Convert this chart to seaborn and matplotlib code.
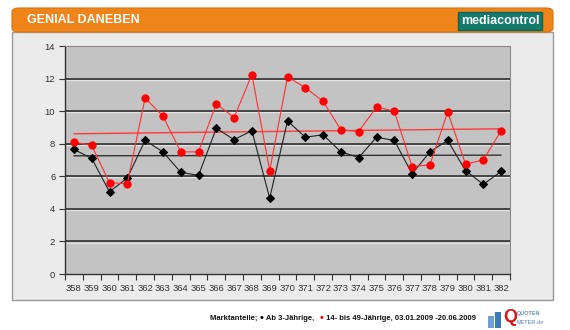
import numpy as np
import pandas as pd
import matplotlib
matplotlib.use("Agg")
import matplotlib.pyplot as plt
import matplotlib.transforms as mtransforms
from matplotlib.patches import FancyBboxPatch, Rectangle
import seaborn as sns

episodes = [str(e) for e in range(358, 383)]
ab3 = [7.65, 7.1, 5.05, 5.9, 8.2, 7.5, 6.25, 6.05, 8.95, 8.25, 8.8, 4.65, 9.4,
       8.4, 8.55, 7.5, 7.15, 8.4, 8.2, 6.15, 7.5, 8.2, 6.35, 5.5, 6.3]
a1449 = [8.1, 7.9, 5.6, 5.55, 10.8, 9.7, 7.5, 7.5, 10.45, 9.6, 12.25, 6.35, 12.1,
         11.45, 10.6, 8.85, 8.75, 10.25, 10.0, 6.6, 6.7, 9.95, 6.75, 7.0, 8.8]
yticks = [0, 2, 4, 6, 8, 10, 12, 14]
title = "GENIAL DANEBEN"
footer_parts = ["Marktanteile; ", "\u2022", " Ab 3-J\u00e4hrige,   ", "\u2022",
                " 14- bis 49-J\u00e4hrige, 03.01.2009 -20.06.2009"]

sns.set_theme(style="white")
plt.rcParams['font.family'] = ['Liberation Sans', 'DejaVu Sans']

df = pd.DataFrame({"pos": np.arange(len(episodes)), "ab3": ab3, "a1449": a1449})

fig = plt.figure(figsize=(5.7, 3.3), dpi=100, facecolor="white")

# panel background
fig.patches.append(Rectangle((12/570, 1-300/330), (553-12)/570, (300-32)/330,
                             transform=fig.transFigure, facecolor="#ebebeb",
                             edgecolor="#9a9a9a", linewidth=1, zorder=-2))
# orange header
fig.patches.append(FancyBboxPatch((12/570, 1-32/330), (553-12)/570, (32-8)/330,
                                  boxstyle="round,pad=0,rounding_size=0.012",
                                  transform=fig.transFigure, facecolor="#ee841a",
                                  edgecolor="#d97410", linewidth=0.8, zorder=-1))
fig.text(27/570, 1-20/330, title, color="white", fontsize=9, fontweight="bold",
         va="center", ha="left")
fig.text(500/570, 1-21/330, "mediacontrol", color="white", fontsize=9,
         fontweight="bold", va="center", ha="center",
         bbox=dict(boxstyle="square,pad=0.25", facecolor="#137a6c", edgecolor="#0e6458"))

ax = fig.add_axes([65/570, 1-274/330, (510-65)/570, (274-46)/330])
ax.set_zorder(2)
ax.set_facecolor("#c3c3c3")

# gridlines with 3D highlight
offset = mtransforms.ScaledTranslation(0, -1.2/100, fig.dpi_scale_trans)
for y in yticks[1:-1]:
    ax.plot([0, 1], [y, y], color="#e2e2e2", lw=1.0, zorder=1,
            transform=ax.get_yaxis_transform() + offset)
    ax.axhline(y, color="#3a3a3a", lw=1.3, zorder=2)

sns.regplot(data=df, x="pos", y="a1449", scatter=False, ci=None, ax=ax,
            line_kws=dict(color="#ff3a3a", lw=1.0, zorder=3))
sns.regplot(data=df, x="pos", y="ab3", scatter=False, ci=None, ax=ax,
            line_kws=dict(color="#333333", lw=1.0, zorder=3))
sns.lineplot(data=df, x="pos", y="ab3", ax=ax, color="#222222", lw=0.8,
             marker="D", markersize=3.6, markeredgecolor="#000000",
             markerfacecolor="#000000", zorder=4)
sns.lineplot(data=df, x="pos", y="a1449", ax=ax, color="#ff3030", lw=0.8,
             marker="o", markersize=5.2, markeredgecolor="#ff0000",
             markerfacecolor="#ff0000", zorder=5)

ax.set_xlim(-0.5, len(episodes) - 0.5)
ax.set_ylim(0, 14)
ax.set_xticks(np.arange(len(episodes)))
ax.set_xticklabels(episodes)
ax.set_xticks(np.arange(len(episodes) + 1) - 0.5, minor=True)
ax.set_yticks(yticks)
ax.set_xlabel("")
ax.set_ylabel("")
ax.tick_params(axis="x", which="major", length=0, labelsize=6.8, pad=7, colors="#333333")
ax.tick_params(axis="x", which="minor", length=4, width=0.8, color="#333333", bottom=True, direction="out")
ax.tick_params(axis="y", which="major", length=4, width=0.8, color="#333333", left=True,
               labelsize=6.8, pad=3, labelcolor="#333333")
for side in ["left", "bottom"]:
    ax.spines[side].set_color("#333333")
    ax.spines[side].set_linewidth(1.0)
for side in ["top", "right"]:
    ax.spines[side].set_color("#8a8a8a")
    ax.spines[side].set_linewidth(0.8)

# footer legend text
colors = ["#111111", "#000000", "#111111", "#ff0000", "#111111"]
prev = fig.text(210/570, 1-318/330, footer_parts[0], fontsize=5.5, fontweight="bold",
                color=colors[0], va="center", ha="left")
for part, c in zip(footer_parts[1:], colors[1:]):
    prev = ax.annotate(part, xy=(1, 0.5), xycoords=prev, va="center", ha="left",
                       fontsize=5.5 if part != "\u2022" else 8, fontweight="bold",
                       color=c, annotation_clip=False)

# quotenmeter logo
fig.patches.append(Rectangle((488/570, 1-328/330), 6/570, 12/330, transform=fig.transFigure,
                             facecolor="#6fa0d0", edgecolor="none"))
fig.patches.append(Rectangle((495/570, 1-328/330), 6/570, 16/330, transform=fig.transFigure,
                             facecolor="#3d78b8", edgecolor="none"))
fig.text(503/570, 1-318/330, "Q", color="#d81818", fontsize=13, fontweight="bold",
         va="center", ha="left")
fig.text(517/570, 1-314/330, "QUOTEN", color="#6a8fb8", fontsize=4, fontweight="bold",
         va="center", ha="left")
fig.text(517/570, 1-322/330, "METER.de", color="#8aa6c6", fontsize=4, fontweight="bold",
         va="center", ha="left")

fig.savefig("out.png", dpi=100, facecolor="white")
